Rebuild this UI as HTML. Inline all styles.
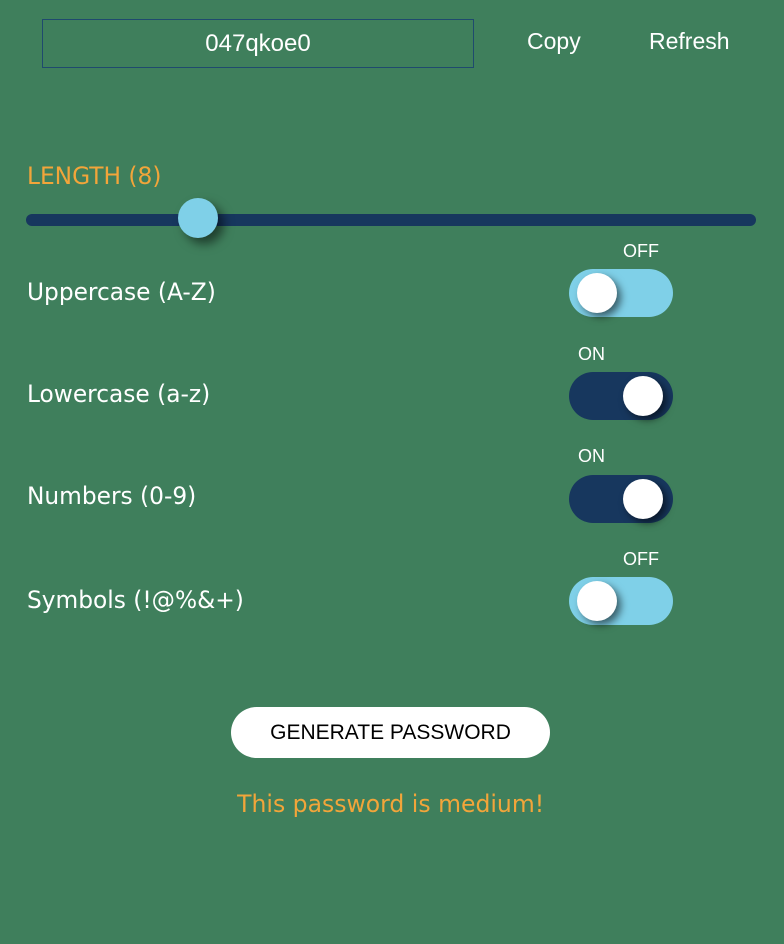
<!DOCTYPE html>
<html><head><meta charset="utf-8"><style>
body{margin:0;width:784px;height:944px;background:#3f7f5c;font-family:"Liberation Sans",sans-serif;position:relative;overflow:hidden;color:#fff}
.a{position:absolute}
.pw{left:42px;top:19px;width:430px;height:47px;border:1px solid #1f4a6e;font-size:24px;display:flex;align-items:center;justify-content:center}
.lab{left:27px;font-size:24px;font-family:"DejaVu Sans",sans-serif;transform:scaleX(0.97);transform-origin:left}
.tg{left:569px;width:104px;height:48px;border-radius:24px}
.off{background:#7fd0e8}.on{background:#17375e}
.k{position:absolute;top:4px;width:40px;height:40px;border-radius:50%;background:#fff;box-shadow:4px 4px 8px rgba(0,0,0,.55)}
.st{font-size:18px}
</style></head><body>
<div class="a pw">047qkoe0</div>
<div class="a" style="left:527px;top:28px;font-size:23px">Copy</div>
<div class="a" style="left:649px;top:28px;font-size:23px">Refresh</div>
<div class="a lab" style="top:162px;color:#f2a53a">LENGTH (8)</div>
<div class="a" style="left:26px;top:214px;width:730px;height:12px;border-radius:6px;background:#17375e"></div>
<div class="a" style="left:178px;top:198px;width:40px;height:40px;border-radius:50%;background:#7fd0e8;box-shadow:6px 6px 10px rgba(0,0,0,.5)"></div>

<div class="a lab" style="top:278px">Uppercase (A-Z)</div>
<div class="a st" style="left:623px;top:241px">OFF</div>
<div class="a tg off" style="top:269px"><div class="k" style="left:8px"></div></div>

<div class="a lab" style="top:380px">Lowercase (a-z)</div>
<div class="a st" style="left:578px;top:344px">ON</div>
<div class="a tg on" style="top:372px"><div class="k" style="left:54px"></div></div>

<div class="a lab" style="top:482px">Numbers (0-9)</div>
<div class="a st" style="left:578px;top:446px">ON</div>
<div class="a tg on" style="top:475px"><div class="k" style="left:54px"></div></div>

<div class="a lab" style="top:586px">Symbols (!@%&amp;+)</div>
<div class="a st" style="left:623px;top:549px">OFF</div>
<div class="a tg off" style="top:577px"><div class="k" style="left:8px"></div></div>

<div class="a" style="left:231px;top:707px;width:319px;height:51px;border-radius:26px;background:#fff;color:#000;font-size:21px;display:flex;align-items:center;justify-content:center">GENERATE PASSWORD</div>
<div class="a" style="left:0;width:782px;top:790px;text-align:center;color:#f2a53a;font-size:24px;font-family:'DejaVu Sans',sans-serif"><span style="display:inline-block;transform:scaleX(0.98)">This password is medium!</span></div>
</body></html>
